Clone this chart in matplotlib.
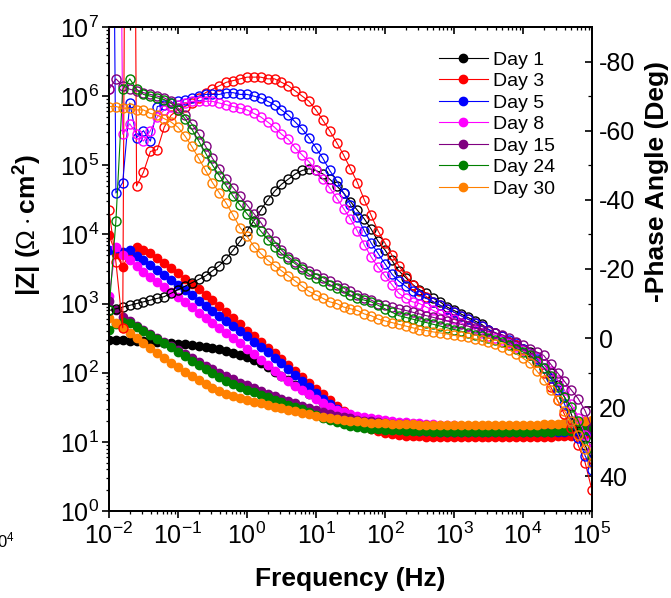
import matplotlib.pyplot as plt
from matplotlib.ticker import MultipleLocator, LogLocator

plt.rcParams['font.family'] = ['Liberation Sans', 'DejaVu Sans']
plt.rcParams['mathtext.fontset'] = 'custom'
plt.rcParams['mathtext.rm'] = 'Liberation Sans'
plt.rcParams['mathtext.it'] = 'Liberation Sans:italic'
plt.rcParams['mathtext.bf'] = 'Liberation Sans:bold'
plt.rcParams['axes.unicode_minus'] = False

# EIS sweep, 10 points per decade (Hz)
freq = [
    0.01, 0.0126, 0.0158, 0.02, 0.0251, 0.0316, 0.0398, 0.0501, 0.0631, 0.0794,
    0.1, 0.126, 0.158, 0.2, 0.251, 0.316, 0.398, 0.501, 0.631, 0.794,
    1, 1.26, 1.58, 2, 2.51, 3.16, 3.98, 5.01, 6.31, 7.94,
    10, 12.6, 15.8, 20, 25.1, 31.6, 39.8, 50.1, 63.1, 79.4,
    100, 126, 158, 200, 251, 316, 398, 501, 631, 794,
    1000, 1259, 1585, 1995, 2512, 3162, 3981, 5012, 6310, 7943,
    10000, 12589, 15849, 19953, 25119, 31623, 39811, 50119, 63096, 79433,
    100000]

days = ['Day 1', 'Day 3', 'Day 5', 'Day 8', 'Day 15', 'Day 24', 'Day 30']

# |Z| (ohm cm2)
z_day1 = [300, 298, 295, 292, 288, 284, 280, 276, 272, 268,
          263, 258, 252, 246, 238, 230, 220, 208, 195, 182,
          168, 152, 136, 120, 104, 90, 78, 67, 58, 50,
          43, 37, 32, 28, 25, 22.5, 20.5, 19, 17.8, 16.8,
          16, 15.3, 14.7, 14.2, 13.8, 13.5, 13.3, 13.1, 13, 12.9,
          12.8, 12.7, 12.7, 12.6, 12.6, 12.5, 12.5, 12.5, 12.5, 12.5,
          12.5, 12.5, 12.5, 12.5, 12.5, 12.6, 12.6, 12.7, 12.8, 13,
          13.2]
z_day3 = [9800, 5200, 3400, 5500, 6600, 6000, 5300, 4600, 3900, 3300,
          2750, 2300, 1920, 1600, 1330, 1110, 920, 760, 620, 500,
          405, 335, 278, 230, 190, 157, 130, 107, 88, 72,
          59, 49, 40, 33, 27.5, 23, 19.5, 17, 15.5, 14.3,
          13.5, 13, 12.6, 12.3, 12.1, 12, 11.9, 11.9, 11.8, 11.8,
          11.8, 11.8, 11.8, 11.8, 11.8, 11.8, 11.8, 11.8, 11.8, 11.8,
          11.8, 11.8, 11.8, 11.9, 11.9, 12, 12.1, 12.3, 12.6, 13,
          13.6]
z_day5 = [6000, 6300, 5600, 5900, 4800, 4300, 3630, 3060, 2580, 2180,
          1840, 1550, 1310, 1100, 930, 790, 665, 560, 475, 400,
          335, 282, 237, 198, 165, 137, 113, 93, 76, 62,
          51, 42, 35, 29.5, 25.5, 22.5, 20.3, 18.7, 17.5, 16.6,
          16, 15.5, 15.1, 14.8, 14.6, 14.4, 14.3, 14.2, 14.1, 14,
          14, 14, 14, 14, 14, 14, 14, 14, 14, 14,
          14, 14, 14, 14, 14, 14.1, 14.1, 14.2, 14.3, 14.4,
          14.5]
z_day8 = [1300, 6600, 5000, 4300, 3500, 2900, 2440, 2060, 1740, 1470,
          1240, 1040, 880, 740, 625, 527, 445, 375, 316, 265,
          221, 186, 155, 129, 107, 89, 76, 65, 56, 49,
          42, 36, 32, 29, 27, 25, 24, 23, 22, 21.2,
          20.5, 20, 19.6, 19.3, 19, 18.7, 18.4, 18.1, 17.8, 17.5,
          17.3, 17.1, 16.9, 16.7, 16.5, 16.3, 16.1, 16, 15.9, 15.8,
          15.7, 15.6, 15.6, 15.6, 15.6, 15.7, 15.8, 16, 16.3, 16.7,
          17.2]
z_day15 = [1100, 800, 650, 560, 480, 420, 360, 315, 275, 240,
           210, 185, 163, 144, 127, 112, 100, 89, 80, 72,
           66, 60, 55, 50, 46, 42, 39, 36, 33.5, 31,
           29, 27, 25.5, 24, 23, 22, 21, 20.3, 19.7, 19.2,
           18.8, 18.4, 18.1, 17.9, 17.7, 17.5, 17.3, 17.1, 17, 16.9,
           16.8, 16.7, 16.6, 16.5, 16.5, 16.4, 16.4, 16.3, 16.3, 16.3,
           16.3, 16.3, 16.3, 16.3, 16.4, 16.5, 16.6, 16.8, 17, 17.3,
           17.6]
z_day24 = [420, 500, 540, 520, 460, 405, 355, 310, 268, 232,
           200, 172, 148, 128, 112, 98, 86, 76, 68, 62,
           57, 52, 48, 44, 40.5, 37.5, 34.5, 32, 29.5, 27,
           24.5, 22.5, 20.8, 19.3, 18.1, 17.2, 16.5, 16, 15.6, 15.3,
           15, 14.8, 14.6, 14.5, 14.4, 14.3, 14.2, 14.1, 14, 14,
           14, 14, 14, 14, 14, 14, 14, 14, 14, 14,
           14, 14, 14, 14, 14.1, 14.2, 14.3, 14.5, 14.8, 15.2,
           15.7]
z_day30 = [620, 520, 450, 380, 320, 270, 230, 195, 165, 140,
           120, 103, 89, 78, 69, 61, 55, 50, 46, 43,
           40.5, 38, 36, 34, 32, 30.5, 29, 27.5, 26.2, 25,
           24, 23, 22.2, 21.5, 20.8, 20.2, 19.7, 19.3, 19, 18.7,
           18.5, 18.3, 18.1, 18, 17.9, 17.8, 17.7, 17.7, 17.6, 17.6,
           17.6, 17.6, 17.6, 17.6, 17.6, 17.6, 17.6, 17.6, 17.6, 17.6,
           17.6, 17.7, 17.8, 17.9, 18.1, 18.3, 18.6, 19, 19.5, 20.2,
           21]

# phase angle (deg)
ph_day1 = [-8, -8.5, -9, -9.5, -10, -10.5, -11, -11.5, -12, -13,
           -14, -15, -16, -17, -18, -19.5, -21, -23, -25.5, -28,
           -31, -34, -37, -40, -42.5, -44.5, -46, -47.5, -48.5, -49,
           -48.5, -47.5, -46, -44, -42, -39.5, -37, -34.5, -31.5, -28,
           -25.5, -22.5, -19.5, -17.5, -15.5, -14, -13, -11.5, -10.5, -9,
           -8, -7, -6, -5, -4, -2.5, -1.5, -0.5, 1, 2,
           3, 4, 5.5, 7.5, 10, 13.5, 17, 22, 27, 31,
           35]
ph_day3 = [-37, -22, -3, -400, -44, -48, -54, -54.5, -61, -64.5,
           -66, -67, -68, -69.5, -71, -72, -73, -74, -74.5, -75,
           -75.5, -75.5, -75.5, -75, -75, -74, -73, -71.5, -70, -68.5,
           -66, -63, -60, -56.5, -53, -49, -45, -40, -35.5, -31,
           -27.5, -24, -21, -18, -15.5, -13.5, -12, -10.5, -9.5, -8.5,
           -7.5, -6.5, -5.5, -4.5, -3.5, -2.5, -1.5, -0.5, 1, 2,
           3.5, 5, 7, 10, 14, 18, 22, 26, 31, 36,
           44]
ph_day5 = [-300, -42, -45, -68, -58, -60, -57, -67, -67.5, -68,
           -68.5, -69, -69.5, -70, -70.5, -70.5, -70.5, -71, -71, -70.5,
           -70.5, -70, -69.5, -68.5, -67.5, -66, -64.5, -62.5, -60.5, -58,
           -55, -52, -48.5, -45.5, -42, -38.5, -35, -31, -27.5, -24.5,
           -21.5, -18.5, -16.5, -15, -13.5, -12.5, -11.5, -10.5, -9.5, -8.5,
           -7.5, -6.5, -5.5, -4.5, -3.5, -2.5, -1.5, -0.5, 0.5, 1.5,
           3, 4.5, 6, 8.5, 11.5, 15, 19, 24, 29, 34,
           38]
ph_day8 = [-72, -300, -59, -62, -59, -57, -60, -64, -66, -67,
           -67.5, -68, -68.5, -68.5, -68.5, -68.5, -68, -67.5, -67, -66.5,
           -66, -65, -64, -62.5, -61, -59, -57.5, -55, -53, -51,
           -48.5, -46, -43.5, -40.5, -37.5, -34.5, -31, -27, -23.5, -20.5,
           -18, -15.5, -13, -11.5, -10.5, -10, -9, -8, -7, -6.5,
           -5.5, -4.5, -3.5, -2.5, -1.5, -0.5, 0, 0.5, 1.5, 2.5,
           3.5, 4.5, 5.5, 7.5, 9.5, 12, 15, 19, 23, 28,
           32]
ph_day15 = [-72, -75, -73, -72, -71.5, -71, -70.5, -70, -69.5, -68.5,
            -66.5, -64.5, -62, -59, -55.5, -52, -49, -46, -43.5, -41,
            -38.5, -36, -33.5, -30.5, -28, -25.5, -23.5, -22, -20.5, -19.5,
            -18.5, -17.5, -16.5, -15.5, -14.5, -13.5, -12.5, -11.5, -11, -10,
            -9.5, -9, -8.5, -8, -7.5, -7, -6.5, -6, -5.5, -5,
            -4.5, -4, -3.5, -3, -2.5, -2, -1.5, -1, 0, 1,
            2, 3, 4, 5, 7.5, 10, 12.5, 15, 17.5, 21,
            26]
ph_day24 = [-8, -34, -72, -75, -72, -70.5, -70, -69.5, -69, -68,
            -66, -63.5, -60.5, -57, -53.5, -50, -47, -44, -41, -38.5,
            -36, -33.5, -31, -28.5, -26.5, -24.5, -23, -21.5, -20, -18.5,
            -17.5, -16.5, -15.5, -14.5, -13.5, -12.5, -11.5, -11, -10.5, -9.5,
            -8.5, -7.5, -6.5, -6, -5.5, -5, -4.5, -4, -3.5, -3,
            -2.5, -2, -1.5, -1, -0.5, 0, 0.5, 1, 2, 3,
            4, 5, 6.5, 8.5, 11, 14, 17, 20, 24, 29,
            34]
ph_day30 = [-67, -67, -66.5, -66.5, -66, -66, -65, -64.5, -63.5, -62.5,
            -61, -58.5, -55.5, -52, -48.5, -45, -42, -39, -35.5, -32,
            -29.5, -26.5, -24.5, -22.5, -21, -19.5, -18, -16.5, -15, -13.5,
            -12.5, -11.5, -10.5, -10, -9, -8.5, -8, -7, -6.5, -5.5,
            -5, -4.5, -4, -3.5, -3, -2.5, -2.2, -1.8, -1.5, -1.2,
            -0.8, -0.5, -0.2, 0.2, 0.6, 1.2, 1.8, 2.5, 3.4, 4.5,
            5.8, 7.2, 9.5, 12, 15, 18, 21, 24, 28, 32,
            36]

zmods = [z_day1, z_day3, z_day5, z_day8, z_day15, z_day24, z_day30]
phases = [ph_day1, ph_day3, ph_day5, ph_day8, ph_day15, ph_day24, ph_day30]
colors = ['black', '#ff0000', '#0000ff', '#ff00ff', '#800080', '#008000', '#ff8000']

fig = plt.figure(figsize=(6.71, 5.98), dpi=100)
ax = fig.add_axes([109 / 671, 87 / 598, 483 / 671, 484 / 598])
ax2 = ax.twinx()

handles = []
for z, ph, c, lab in zip(zmods, phases, colors, days):
    h, = ax.plot(freq, z, '-o', color=c, lw=0.8, ms=6, mfc=c, mec=c, label=lab)
    ax2.plot(freq, ph, '-o', color=c, lw=0.8, ms=6.5, mfc='none', mec=c, mew=1.0)
    handles.append(h)

ax.set_xscale('log')
ax.set_yscale('log')
ax.set_xlim(1e-2, 1e5)
ax.set_ylim(1, 1e7)
ax2.set_ylim(50, -90)

# one label per decade on both log axes
ax.xaxis.set_major_locator(LogLocator(base=10, numticks=20))
ax.xaxis.set_minor_locator(LogLocator(base=10, subs=range(2, 10), numticks=20))
ax.yaxis.set_major_locator(LogLocator(base=10, numticks=20))
ax.yaxis.set_minor_locator(LogLocator(base=10, subs=range(2, 10), numticks=20))

for a in (ax, ax2):
    for s in a.spines.values():
        s.set_linewidth(1.3)

ax.tick_params(axis='both', which='major', direction='out', length=5, width=1.2,
               labelsize=18, pad=2)
ax.tick_params(axis='both', which='minor', direction='out', length=2.5, width=0.9)
ax.tick_params(axis='x', pad=3)

top = ax.secondary_xaxis('top')
top.xaxis.set_major_locator(LogLocator(base=10, numticks=20))
top.xaxis.set_minor_locator(LogLocator(base=10, subs=range(2, 10), numticks=20))
top.tick_params(axis='x', which='major', direction='in', length=5, width=1.2, labeltop=False)
top.tick_params(axis='x', which='minor', direction='in', length=2.5, width=0.9)
top.spines['top'].set_linewidth(1.3)

ax2.yaxis.set_major_locator(MultipleLocator(20))
ax2.yaxis.set_minor_locator(MultipleLocator(10))
ax2.set_yticks([-80, -60, -40, -20, 0, 20, 40])
ax2.tick_params(axis='y', which='major', direction='in', length=5, width=1.2,
                labelsize=18, pad=5)
ax2.tick_params(axis='y', which='minor', direction='in', length=3, width=0.9)

ax.set_xlabel('Frequency (Hz)', fontsize=19, fontweight='bold')
ax.xaxis.set_label_coords(0.5, -0.115)
ax.set_ylabel(r'|Z| ($\Omega\cdot$cm$^{\mathbf{2}}$)', fontsize=19, fontweight='bold')
ax.yaxis.set_label_coords(-0.135, 0.59)
ax2.set_ylabel('-Phase Angle (Deg)', fontsize=19, fontweight='bold')
ax2.yaxis.set_label_coords(1.11, 0.68)

ax2.legend(handles=handles, loc='upper left', bbox_to_anchor=(439 / 671, 1 - 51 / 598),
           bbox_transform=fig.transFigure, frameon=False, fontsize=14,
           handlelength=2.5, handletextpad=0.3, labelspacing=0.2,
           borderpad=0, borderaxespad=0)

# stray tick label at the left edge
fig.text(15 / 671, 1 - 540 / 598, r'10$^4$', ha='right', va='center', fontsize=12)

fig.savefig('out.png', dpi=100)
